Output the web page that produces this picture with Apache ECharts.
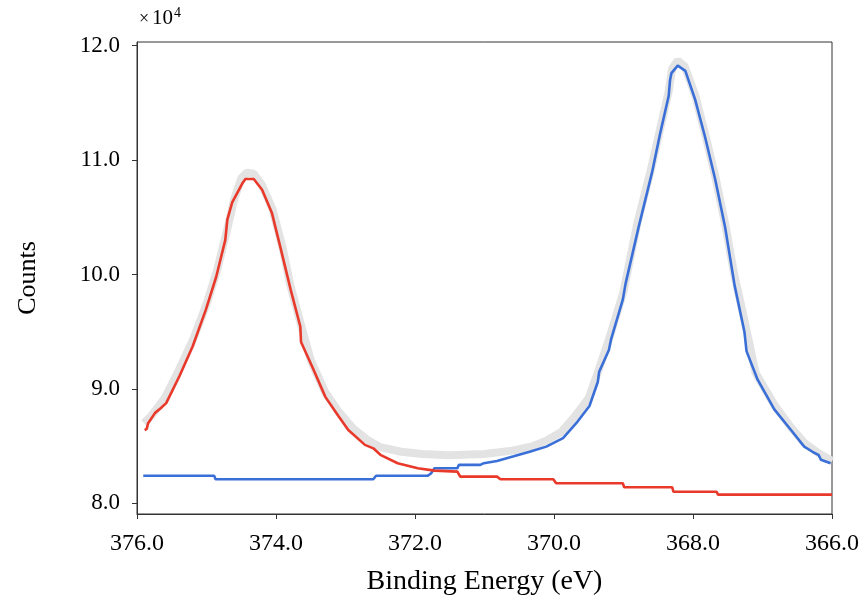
<!DOCTYPE html>
<html>
<head>
<meta charset="utf-8">
<script src="https://cdn.jsdelivr.net/npm/echarts@6/dist/echarts.min.js"></script>
<style>html,body{margin:0;padding:0;background:#fff}#c{width:862px;height:601px}</style>
</head>
<body>
<div id="c"></div>
<script>
// Binding energy (eV) and counts (x10^4)
const grayX = [375.9,375.8,375.6,375.4,375.2,375.0,374.85,374.7,374.6,374.5,374.42,374.32,374.2,374.05,373.9,373.8,373.65,373.5,373.3,373.1,372.9,372.7,372.5,372.2,371.9,371.5,371.0,370.6,370.3,370.1,369.9,369.7,369.5,369.35,369.2,369.0,368.8,368.6,368.47,368.35,368.3,368.22,368.12,367.97,367.83,367.68,367.54,367.4,367.26,367.1,366.83,366.6,366.4,366.2,366.0];
const grayY = [8.70,8.76,8.92,9.16,9.42,9.74,10.03,10.40,10.66,10.84,10.89,10.88,10.78,10.57,10.22,9.92,9.58,9.25,8.98,8.80,8.66,8.56,8.49,8.45,8.43,8.42,8.43,8.46,8.50,8.55,8.62,8.76,8.92,9.18,9.45,9.85,10.45,10.93,11.28,11.60,11.80,11.87,11.82,11.57,11.24,10.86,10.45,9.98,9.60,9.14,8.86,8.67,8.53,8.44,8.37];

const redX = [375.89,375.86,375.84,375.74,375.66,375.58,375.39,375.20,375.01,374.86,374.73,374.70,374.63,374.48,374.44,374.32,374.20,374.06,373.94,373.79,373.65,373.64,373.48,373.29,373.10,372.96,372.72,372.60,372.49,372.25,371.96,371.72,371.39,371.35,370.82,370.77,370.01,369.97,369.01,368.99,368.30,368.28,367.66,367.64,366.00];
const redY = [8.64,8.65,8.70,8.79,8.83,8.875,9.11,9.37,9.69,9.98,10.30,10.48,10.63,10.80,10.835,10.835,10.74,10.54,10.245,9.87,9.545,9.41,9.195,8.93,8.76,8.64,8.51,8.48,8.42,8.35,8.306,8.285,8.276,8.233,8.233,8.21,8.21,8.175,8.175,8.14,8.14,8.10,8.10,8.075,8.075];

const blueX = [375.91,374.89,374.87,372.60,372.56,371.82,371.77,371.72,371.39,371.37,371.06,371.01,370.82,370.58,370.35,370.11,369.87,369.68,369.49,369.37,369.35,369.21,369.18,369.01,368.97,368.78,368.59,368.47,368.35,368.33,368.31,368.22,368.11,367.97,367.83,367.68,367.54,367.40,367.26,367.23,367.07,366.83,366.59,366.40,366.28,366.19,366.16,366.02];
const blueY = [8.24,8.24,8.21,8.21,8.24,8.24,8.26,8.306,8.306,8.335,8.335,8.35,8.37,8.41,8.45,8.495,8.57,8.70,8.85,9.06,9.15,9.34,9.43,9.78,9.92,10.42,10.89,11.24,11.56,11.70,11.76,11.825,11.78,11.53,11.21,10.83,10.42,9.90,9.50,9.33,9.08,8.82,8.64,8.495,8.45,8.42,8.38,8.35];

const yTicks = [8, 9, 10, 11, 12];
const xLabel = 'Binding Energy (eV)';
const yLabel = 'Counts';

const zip = (xs, ys) => xs.map((x, i) => [x, ys[i]]);
const FONT = 'Liberation Serif';

const chart = echarts.init(document.getElementById('c'), null, {renderer: 'canvas'});
chart.setOption({
  animation: false,
  backgroundColor: '#fff',
  grid: {left: 137, top: 42, width: 701, height: 472, show: true, borderColor: '#333', borderWidth: 1, backgroundColor: 'transparent'},
  xAxis: {
    type: 'value', inverse: true, min: 366, max: 376, interval: 2,
    name: xLabel, nameLocation: 'middle', nameGap: 54,
    nameTextStyle: {fontFamily: FONT, fontSize: 28, color: '#000'},
    axisLine: {show: true, lineStyle: {color: '#333', width: 1}},
    axisTick: {show: true, inside: false, length: 5, lineStyle: {color: '#333'}},
    axisLabel: {fontFamily: FONT, fontSize: 24, color: '#000', margin: 18, formatter: v => v.toFixed(1)},
    splitLine: {show: false}
  },
  yAxis: {
    type: 'value', min: 7.906, max: 12.032,
    name: yLabel, nameLocation: 'middle', nameGap: 96, nameRotate: 90,
    nameTextStyle: {fontFamily: FONT, fontSize: 26, color: '#000'},
    axisLine: {show: true, lineStyle: {color: '#333', width: 1}},
    axisTick: {show: true, inside: false, length: 5, lineStyle: {color: '#333'}, customValues: yTicks},
    axisLabel: {fontFamily: FONT, fontSize: 23, color: '#000', margin: 17, customValues: yTicks, formatter: v => v.toFixed(1)},
    splitLine: {show: false}
  },
  graphic: [
    {type: 'text', left: 139, top: 10, style: {text: '×', fontFamily: FONT, fontSize: 18, fill: '#000'}},
    {type: 'text', left: 152, top: 8, style: {text: '10', fontFamily: FONT, fontSize: 21, fill: '#000'}},
    {type: 'text', left: 174, top: 6, style: {text: '4', fontFamily: FONT, fontSize: 14, fill: '#000'}}
  ],
  series: [
    {type: 'line', data: zip(grayX, grayY), symbol: 'none', smooth: false, lineStyle: {color: '#e3e3e3', width: 8}, z: 1},
    {type: 'line', data: zip(blueX, blueY), symbol: 'none', lineStyle: {color: '#3a6fd8', width: 2.6}, z: 2},
    {type: 'line', data: zip(redX, redY), symbol: 'none', lineStyle: {color: '#e8392b', width: 2.6}, z: 3}
  ]
});
</script>
</body>
</html>
